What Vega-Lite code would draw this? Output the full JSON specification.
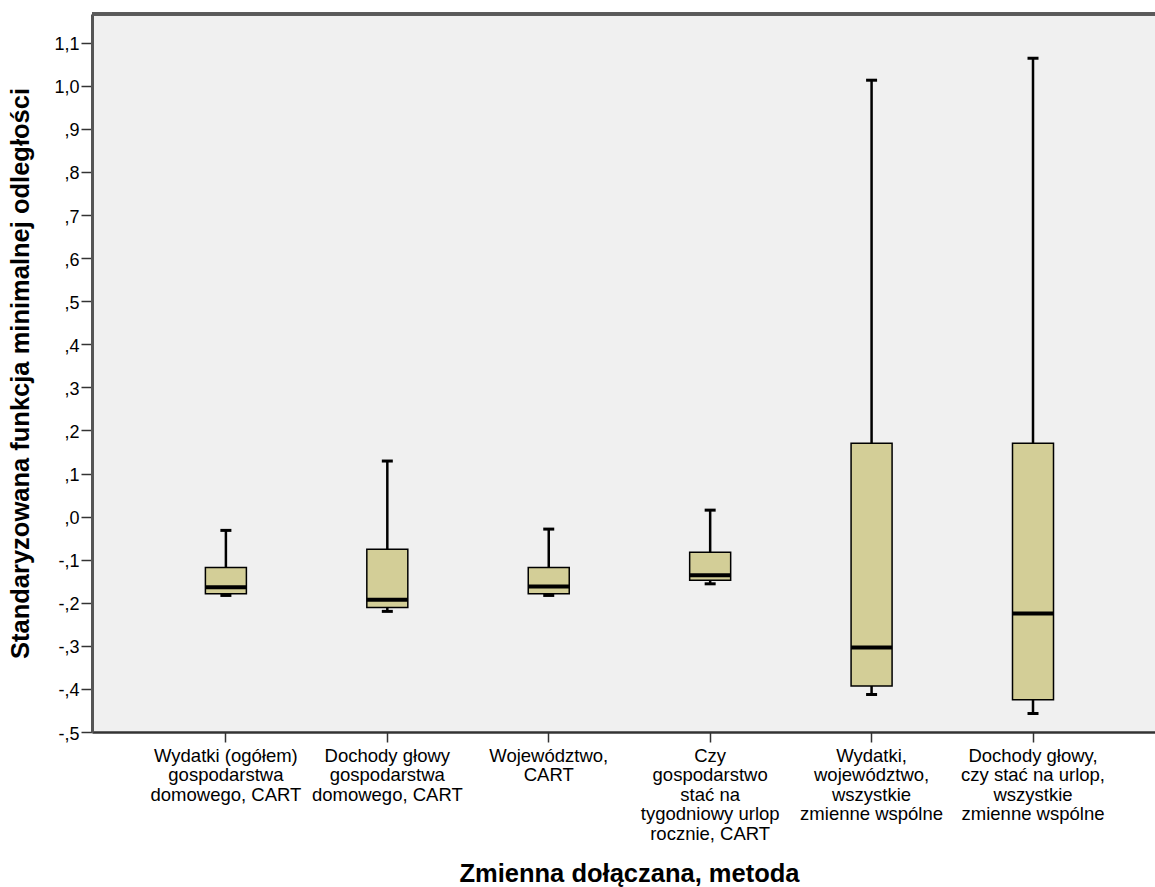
{
  "$schema": "https://vega.github.io/schema/vega-lite/v6.json",
  "autosize": {"type": "none"},
  "padding": {"left": 92, "top": 14, "right": 0, "bottom": 155},
  "width": 1063,
  "height": 718,
  "background": "white",
  "view": {"fill": "#f0f0f0", "stroke": null},
  "data": {
    "values": [
      {"zmienna": "Wydatki (ogółem)|gospodarstwa|domowego, CART", "lo": -0.183, "q1": -0.179, "med": -0.164, "q3": -0.118, "hi": -0.032},
      {"zmienna": "Dochody głowy|gospodarstwa|domowego, CART", "lo": -0.220, "q1": -0.211, "med": -0.193, "q3": -0.076, "hi": 0.129},
      {"zmienna": "Województwo,|CART", "lo": -0.183, "q1": -0.179, "med": -0.162, "q3": -0.118, "hi": -0.029},
      {"zmienna": "Czy|gospodarstwo|stać na|tygodniowy urlop|rocznie, CART", "lo": -0.156, "q1": -0.148, "med": -0.136, "q3": -0.083, "hi": 0.015},
      {"zmienna": "Wydatki,|województwo,|wszystkie|zmienne wspólne", "lo": -0.413, "q1": -0.393, "med": -0.304, "q3": 0.170, "hi": 1.013},
      {"zmienna": "Dochody głowy,|czy stać na urlop,|wszystkie|zmienne wspólne", "lo": -0.457, "q1": -0.425, "med": -0.225, "q3": 0.170, "hi": 1.064}
    ]
  },
  "encoding": {
    "x": {
      "field": "zmienna",
      "type": "nominal",
      "sort": null,
      "scale": {"type": "band", "paddingInner": 0, "paddingOuter": 0.2926, "align": 0.563},
      "axis": {
        "title": "Zmienna dołączana, metoda",
        "titleFont": "Liberation Sans",
        "titleFontSize": 25.5,
        "titleFontWeight": "bold",
        "titleColor": "#000000",
        "titlePadding": 19,
        "titleX": 537,
        "labelExpr": "split(datum.label, '|')",
        "labelFont": "Liberation Sans",
        "labelFontSize": 18.5,
        "labelLineHeight": 19.5,
        "labelColor": "#000000",
        "labelAngle": 0,
        "labelAlign": "center",
        "labelBaseline": "top",
        "labelPadding": 4,
        "labelLimit": 0,
        "labelOverlap": false,
        "tickSize": 10,
        "tickWidth": 1.5,
        "tickColor": "#333333",
        "domainColor": "#333333",
        "domainWidth": 2.5,
        "grid": false
      }
    }
  },
  "layer": [
    {
      "mark": {"type": "rule", "color": "#000000", "strokeWidth": 2.5},
      "encoding": {
        "y": {
          "field": "lo",
          "type": "quantitative",
          "scale": {"domain": [-0.5, 1.1667], "nice": false, "zero": false},
          "axis": {
            "title": "Standaryzowana funkcja minimalnej odległości",
            "titleFont": "Liberation Sans",
            "titleFontSize": 25.5,
            "titleFontWeight": "bold",
            "titleColor": "#000000",
            "titlePadding": 20,
            "values": [-0.5, -0.4, -0.3, -0.2, -0.1, 0, 0.1, 0.2, 0.3, 0.4, 0.5, 0.6, 0.7, 0.8, 0.9, 1.0, 1.1],
            "labelExpr": "replace(replace(replace(format(datum.value, '.1f'), '−', '-'), '0.', '.'), '.', ',')",
            "labelFont": "Liberation Sans",
            "labelFontSize": 18,
            "labelColor": "#000000",
            "labelPadding": 2,
            "labelOffset": 2,
            "tickSize": 11,
            "tickWidth": 1.5,
            "tickColor": "#333333",
            "domainColor": "#555555",
            "domainWidth": 3,
            "grid": false
          }
        },
        "y2": {"field": "hi"}
      }
    },
    {
      "mark": {"type": "rule", "color": "#5a5a5a", "strokeWidth": 3},
      "encoding": {"x": {"value": 0}, "x2": {"value": 1063}, "y": {"datum": 1.1667, "type": "quantitative"}}
    },
    {
      "mark": {"type": "bar", "width": 41, "fill": "#d3ce97", "stroke": "#000000", "strokeWidth": 1.5, "opacity": 1},
      "encoding": {
        "y": {"field": "q1", "type": "quantitative"},
        "y2": {"field": "q3"}
      }
    },
    {
      "mark": {"type": "tick", "color": "#000000", "opacity": 1, "thickness": 4, "size": 41},
      "encoding": {"y": {"field": "med", "type": "quantitative"}}
    },
    {
      "mark": {"type": "tick", "color": "#000000", "opacity": 1, "thickness": 3, "size": 11},
      "encoding": {"y": {"field": "lo", "type": "quantitative"}}
    },
    {
      "mark": {"type": "tick", "color": "#000000", "opacity": 1, "thickness": 3, "size": 11},
      "encoding": {"y": {"field": "hi", "type": "quantitative"}}
    }
  ]
}
